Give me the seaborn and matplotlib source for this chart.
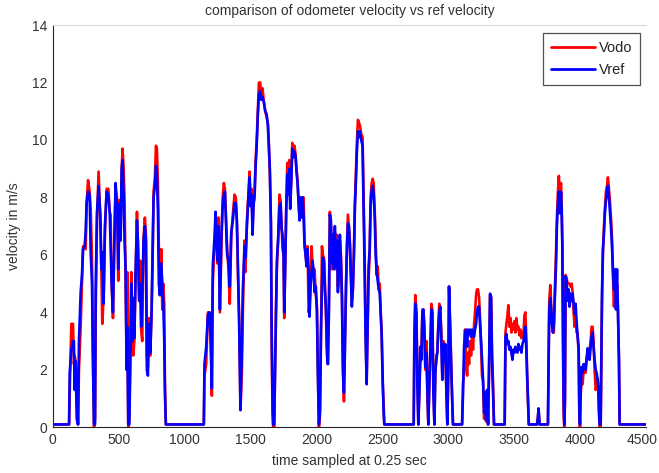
import matplotlib
matplotlib.use("Agg")
import matplotlib.pyplot as plt
import matplotlib.transforms as mtransforms
import pandas as pd
import seaborn as sns

# sample index (time sampled at 0.25 s)
time = [0, 124, 129, 141, 154, 161, 166, 174, 182, 192, 199, 212, 222, 230, 242, 250, 257, 268, 280, 288,
        298, 305, 313, 321, 326, 336, 348, 361, 369, 376, 386, 396, 409, 422, 432, 439, 447, 457, 467, 477,
        490, 497, 507, 515, 523, 530, 538, 545, 553, 560, 565, 573, 581, 588, 596, 603, 611, 619, 629, 639,
        646, 656, 664, 671, 679, 689, 699, 707, 714, 722, 730, 740, 750, 757, 765, 775, 783, 790, 798, 805,
        813, 823, 831, 838, 846, 851, 858,
        1146, 1151, 1164, 1177, 1189, 1197, 1207, 1214, 1227, 1235, 1242, 1250, 1257, 1268, 1278, 1288, 1298,
        1306, 1313, 1323, 1333, 1343, 1354, 1366, 1379, 1389, 1397, 1404, 1414, 1424, 1435, 1442, 1455, 1462,
        1473, 1483, 1493, 1500, 1508, 1516, 1523, 1531, 1538, 1548, 1556, 1564, 1574, 1581, 1591, 1602, 1612,
        1622, 1632, 1639, 1647, 1655, 1660, 1667, 1672, 1680, 1685, 1693, 1700, 1710, 1720, 1728, 1736, 1743,
        1751, 1756, 1763, 1771, 1779, 1786, 1794, 1801, 1809, 1817, 1827, 1834, 1842, 1849, 1857, 1865, 1872,
        1880, 1887, 1895, 1903, 1910, 1918, 1925, 1933, 1941, 1948, 1956, 1963, 1971, 1979, 1986, 1996, 2004,
        2011, 2019, 2027, 2034, 2042, 2049, 2057, 2065, 2072, 2080, 2087, 2095, 2102, 2110, 2118, 2125, 2133,
        2140, 2148, 2156, 2163, 2171, 2178, 2186, 2194, 2201, 2209, 2216, 2224, 2232, 2239, 2247, 2254, 2262,
        2269, 2277, 2285, 2292, 2300, 2307, 2315, 2323, 2330, 2340, 2350, 2358, 2366, 2373, 2381, 2389, 2396,
        2404, 2411, 2419, 2427, 2434, 2442, 2449, 2457, 2465, 2472, 2480, 2487, 2495, 2503, 2510, 2515,
        2738, 2743, 2750, 2758, 2766, 2773, 2781, 2788, 2796, 2804, 2811, 2819, 2826, 2834, 2842, 2849, 2857,
        2864, 2872, 2879, 2887, 2895, 2902, 2910, 2917, 2925, 2932, 2940, 2948, 2955, 2963, 2971, 2978, 2986,
        2993, 3001, 3006, 3014, 3021, 3029, 3036,
        3105, 3112, 3120, 3127, 3135, 3143, 3150, 3158, 3165, 3173, 3181, 3188, 3196, 3203, 3211, 3218, 3226,
        3234, 3241, 3249, 3256, 3264, 3272, 3279, 3287, 3294, 3302, 3310, 3317, 3325, 3332, 3340, 3347,
        3428, 3434, 3441, 3449, 3456, 3464, 3472, 3479, 3487, 3494, 3502, 3509, 3517, 3525, 3532, 3540, 3547,
        3555, 3563, 3570, 3578, 3585, 3593, 3598, 3606, 3611,
        3673, 3679, 3685, 3693,
        3756, 3761, 3766, 3774, 3781, 3786, 3794, 3801, 3809, 3817, 3824, 3832, 3839, 3847, 3855, 3860, 3865,
        3870, 3875, 3880, 3885, 3890, 3898, 3905, 3913, 3920, 3928, 3936, 3943, 3951, 3958, 3966, 3973, 3981,
        3989, 3994, 3999, 4004, 4011, 4019, 4027, 4034, 4042, 4049, 4057, 4065, 4072, 4080, 4087, 4095, 4102,
        4110, 4118, 4125, 4133, 4138, 4143, 4148, 4156, 4161, 4166, 4173, 4181, 4188, 4196, 4204, 4211, 4219,
        4226, 4234, 4242, 4249, 4257, 4264, 4272, 4280, 4287, 4295, 4300, 4500]

# reference velocity (m/s)
vref = [0.1, 0.1, 1.9, 2.7, 3.0, 3.0, 1.3, 2.3, 0.3, 0.1, 3.0, 4.7, 5.3, 6.2, 6.3, 6.8, 7.8, 8.2, 8.1, 6.1,
        5.0, 2.3, 0.1, 0.1, 4.9, 7.5, 8.4, 7.4, 5.5, 6.1, 4.3, 7.0, 8.2, 8.1, 7.5, 6.3, 5.0, 4.0, 6.5, 8.5,
        7.5, 5.5, 7.8, 6.5, 9.0, 9.3, 8.0, 6.5, 5.5, 2.0, 3.5, 0.1, 0.1, 2.0, 5.0, 3.0, 4.5, 3.1, 5.5, 7.2,
        6.5, 4.4, 5.0, 3.5, 4.5, 6.5, 7.0, 6.5, 2.0, 1.8, 3.6, 2.6, 4.0, 6.0, 8.0, 8.4, 9.1, 8.8, 7.5, 5.0,
        4.6, 5.7, 5.0, 4.4, 3.0, 1.2, 0.1,
        0.1, 2.2, 2.8, 3.9, 4.0, 3.2, 1.35, 5.6, 6.6, 7.5, 6.5, 5.8, 7.0, 4.1, 6.5, 7.6, 8.1,
        8.2, 7.3, 6.0, 5.8, 4.9, 6.8, 7.2, 7.8, 7.8, 7.2, 5.8, 3.6, 0.6, 2.9, 4.8, 6.3, 5.9,
        7.0, 7.9, 8.7, 7.7, 8.1, 6.7, 7.7, 8.1, 9.0, 9.9, 10.9, 11.6, 11.7, 11.4, 11.5, 11.3, 11.0,
        10.9, 10.5, 9.8, 9.0, 7.0, 3.7, 1.0, 0.1, 0.1, 1.6, 3.85, 5.8, 6.6, 7.7, 7.8, 6.9, 6.7,
        6.0, 4.0, 5.5, 7.6, 8.8, 8.1, 9.0, 7.6, 8.5, 9.7, 9.4, 9.6, 9.4, 8.9, 8.5, 7.8, 7.2,
        8.0, 7.3, 8.0, 7.3, 6.3, 6.0, 5.6, 6.2, 5.4, 3.85, 4.9, 5.4, 5.8, 5.4, 4.7, 4.9, 4.0,
        1.9, 0.1, 0.6, 3.2, 4.9, 5.9, 5.8, 4.7, 4.2, 2.8, 2.2, 4.0, 7.4, 7.2, 5.7, 6.7, 5.5,
        7.0, 5.6, 6.5, 4.7, 5.4, 6.7, 5.8, 4.4, 1.9, 1.2, 2.6, 4.9, 6.3, 7.1, 7.0, 6.3, 5.1,
        4.2, 4.9, 6.0, 7.7, 8.6, 9.6, 10.3, 10.1, 10.3, 10.0, 9.8, 7.7, 5.4, 3.15, 1.5, 3.7, 5.6,
        6.2, 7.7, 8.25, 8.4, 8.1, 7.4, 6.05, 5.4, 5.1, 4.8, 4.7, 4.0, 3.2, 1.65, 0.5, 0.1,
        0.1, 3.0, 4.3, 4.0, 1.4, 0.1, 1.2, 2.8, 2.35, 4.0, 4.1, 3.3, 2.1, 2.6, 1.2, 0.1, 1.65,
        2.6, 4.1, 4.0, 1.2, 0.1, 1.9, 2.35, 2.6, 3.5, 4.0, 4.2, 2.8, 1.65, 2.9, 2.35, 2.9, 1.2,
        0.1, 2.0, 4.9, 3.5, 2.35, 1.2, 0.1,
        0.1, 1.2, 2.8, 3.25, 3.4, 2.8, 3.4, 3.25, 3.4, 3.15, 3.4, 3.25, 3.15, 3.4, 3.6, 4.0, 4.2,
        4.2, 3.6, 3.0, 2.35, 1.65, 0.5, 1.2, 0.25, 1.3, 0.1, 2.35, 4.65, 4.55, 2.35, 1.2, 0.1,
        0.1, 3.15, 3.25, 2.9, 3.0, 2.7, 2.8, 2.6, 2.35, 2.7, 2.6, 2.8, 2.7, 2.6, 2.9, 2.7, 2.8,
        2.6, 2.9, 3.0, 3.25, 3.5, 2.6, 1.9, 0.7, 0.1,
        0.1, 0.3, 0.66, 0.1,
        0.1, 2.35, 4.1, 4.5, 4.1, 3.6, 3.3, 3.6, 4.65, 5.6, 7.0, 7.8, 8.2, 7.45, 8.2, 7.55, 6.4,
        3.5, 0.95, 0.1, 0.95, 5.25, 5.1, 4.4, 4.8, 4.2, 4.65, 4.4, 4.65, 4.3, 3.95, 4.3, 3.7, 3.15,
        2.8, 0.65, 0.1, 1.2, 2.1, 1.9, 2.2, 2.1, 2.0, 2.35, 2.75, 2.6, 2.35, 2.8, 3.15, 3.3, 2.8,
        2.35, 2.0, 1.9, 1.65, 1.4, 0.65, 0.1, 0.1, 2.35, 4.65, 6.2, 6.75, 7.45, 7.9, 8.15, 8.4, 8.0,
        7.55, 7.0, 6.3, 5.5, 4.8, 5.5, 4.1, 5.5, 4.0, 2.35, 0.1, 0.1]

# odometer velocity (m/s)
vodo = [0.1, 0.1, 1.2, 3.6, 3.6, 2.2, 2.5, 2.3, 1.6, 0.1, 2.0, 3.5, 5.0, 6.3, 6.3, 6.2, 7.8, 8.6, 8.2, 7.6,
        5.8, 2.7, 0.0, 0.3, 4.0, 7.3, 8.9, 7.2, 5.5, 3.6, 4.5, 6.8, 8.3, 8.3, 7.5, 7.4, 5.0, 3.8, 6.2, 8.3,
        7.9, 5.1, 7.9, 6.8, 9.0, 9.7, 9.0, 7.9, 5.1, 2.5, 5.4, 0.0, 0.3, 2.8, 5.4, 3.3, 2.5, 3.0, 5.2, 7.5,
        6.4, 4.4, 5.8, 3.4, 3.0, 6.6, 7.3, 6.7, 2.5, 2.1, 3.8, 2.5, 4.1, 5.6, 8.2, 8.7, 9.8, 9.7, 8.5, 6.2,
        4.6, 6.2, 4.1, 5.0, 4.3, 1.6, 0.1,
        0.1, 1.8, 2.2, 4.0, 4.0, 3.6, 1.1, 5.0, 6.3, 7.0, 6.8, 5.7, 7.3, 4.0, 6.0, 7.9, 8.5,
        8.3, 7.5, 6.2, 5.5, 4.3, 6.6, 7.4, 8.1, 8.0, 7.0, 5.5, 3.8, 0.6, 2.0, 4.0, 6.5, 5.4,
        7.2, 8.0, 8.9, 8.0, 8.3, 7.0, 7.8, 8.0, 9.2, 10.1, 11.1, 12.0, 12.0, 11.5, 11.8, 11.3, 11.0,
        10.8, 10.6, 9.9, 8.8, 7.2, 3.3, 0.5, 0.0, 0.0, 1.5, 4.0, 5.5, 6.5, 8.1, 7.9, 7.0, 6.2,
        6.0, 3.8, 5.6, 7.5, 9.2, 8.3, 9.3, 7.9, 8.6, 9.9, 9.6, 9.8, 9.5, 9.0, 8.6, 7.8, 7.3,
        8.0, 7.6, 8.0, 8.0, 6.5, 6.0, 5.7, 6.3, 4.0, 4.2, 5.2, 6.3, 5.6, 5.5, 5.5, 4.6, 4.2,
        2.0, 0.0, 0.4, 2.8, 6.3, 6.0, 5.9, 5.0, 4.0, 2.5, 2.2, 4.5, 7.5, 7.0, 5.5, 6.6, 6.0,
        6.8, 5.5, 6.7, 4.9, 5.9, 6.5, 6.0, 4.6, 2.3, 0.9, 3.0, 4.6, 6.4, 7.4, 6.9, 6.5, 5.4,
        4.4, 4.8, 6.3, 7.8, 8.9, 9.9, 10.7, 10.6, 10.5, 10.2, 10.1, 8.0, 5.9, 3.4, 1.6, 3.7, 5.2,
        6.0, 8.0, 8.5, 8.65, 8.5, 7.6, 6.5, 5.3, 5.6, 4.9, 5.0, 4.1, 3.3, 1.5, 0.8, 0.1,
        0.1, 3.2, 4.6, 4.1, 2.0, 0.1, 1.4, 2.2, 2.5, 4.1, 4.1, 3.6, 2.0, 3.0, 1.0, 0.1, 1.5,
        2.8, 4.3, 4.1, 1.6, 0.1, 1.9, 2.5, 2.6, 3.6, 4.3, 4.0, 3.3, 1.8, 3.0, 2.3, 2.6, 1.3,
        0.1, 2.2, 4.9, 3.6, 2.5, 1.0, 0.1,
        0.1, 1.5, 2.0, 3.4, 2.3, 1.8, 2.6, 2.2, 3.0, 2.5, 3.2, 2.7, 3.6, 4.0, 4.6, 4.8, 4.8,
        4.5, 3.8, 2.8, 1.8, 1.6, 0.3, 1.0, 0.2, 1.1, 0.1, 2.0, 4.6, 4.5, 2.6, 1.5, 0.1,
        0.1, 3.3, 3.6, 3.9, 4.25, 3.5, 3.8, 3.3, 3.6, 3.4, 3.7, 3.3, 3.8, 3.4, 3.5, 3.2, 3.4,
        3.1, 3.3, 3.2, 3.9, 4.0, 3.0, 1.8, 0.8, 0.1,
        0.1, 0.3, 0.6, 0.1,
        0.1, 2.0, 4.4, 4.95, 4.2, 3.8, 3.3, 3.3, 4.8, 6.0, 7.3, 8.2, 8.75, 8.0, 8.5, 7.8, 6.5,
        3.0, 0.5, 0.0, 0.8, 5.3, 5.2, 5.0, 5.0, 5.0, 4.9, 5.0, 4.7, 4.0, 3.5, 4.0, 3.3, 3.3,
        2.5, 0.6, 0.0, 1.0, 1.8, 1.5, 2.0, 2.2, 1.9, 2.4, 2.6, 2.7, 2.7, 3.0, 3.5, 3.5, 3.0,
        2.0, 1.3, 1.4, 1.7, 1.4, 0.5, 0.0, 0.0, 2.0, 4.3, 6.0, 7.0, 7.6, 8.2, 8.4, 8.7, 8.3,
        7.9, 7.3, 6.6, 5.3, 4.2, 5.4, 4.3, 5.0, 4.2, 2.2, 0.1, 0.1]

series_names = ["Vodo", "Vref"]
series_colors = ["#ff0000", "#0000ff"]
x_ticks = [0, 500, 1000, 1500, 2000, 2500, 3000, 3500, 4000, 4500]
y_ticks = [0, 2, 4, 6, 8, 10, 12, 14]

n = len(time)
df = pd.DataFrame({
    "t": time + time,
    "v": vodo + vref,
    "series": [series_names[0]] * n + [series_names[1]] * n,
})

sns.set_style("white")
plt.rcParams["font.family"] = ["Liberation Sans", "DejaVu Sans"]

fig = plt.figure(figsize=(6.59, 4.73), dpi=100)
ax = fig.add_axes([0.080, 0.0966, 0.9003, 0.8505])

sns.lineplot(data=df, x="t", y="v", hue="series", hue_order=series_names,
             palette=dict(zip(series_names, series_colors)), estimator=None,
             sort=False, linewidth=1.9, ax=ax)

ax.set_xlim(0, 4500)
ax.set_ylim(0, 14)
ax.set_xticks(x_ticks)
ax.set_yticks(y_ticks)
ax.tick_params(direction="in", length=3, width=0.8, colors="#262626",
               labelsize=10, labelcolor="#333333", pad=4)

# keep the last x label inside the figure edge
last = ax.get_xticklabels()[-1]
last.set_transform(last.get_transform() +
                   mtransforms.ScaledTranslation(-4 / 100, 0, fig.dpi_scale_trans))

for side in ["left", "bottom"]:
    ax.spines[side].set_color("#262626")
    ax.spines[side].set_linewidth(0.8)
ax.spines["top"].set_color("#d9d9d9")
ax.spines["top"].set_linewidth(0.8)
ax.spines["right"].set_visible(False)

ax.set_title("comparison of odometer velocity vs ref velocity", fontsize=10, color="#333333", pad=7)
ax.set_xlabel("time sampled at 0.25 sec", fontsize=10, color="#333333", labelpad=5)
ax.set_ylabel("velocity in m/s", fontsize=10, color="#333333", labelpad=8)

leg = ax.legend(loc="upper right", bbox_to_anchor=(0.99, 0.981), borderaxespad=0,
                fancybox=False, frameon=True, fontsize=10.5, handlelength=3.0,
                handletextpad=0.25, labelspacing=0.6, borderpad=0.55)
leg.get_frame().set_edgecolor("#262626")
leg.get_frame().set_linewidth(0.9)
for line in leg.get_lines():
    line.set_linewidth(2.0)

fig.savefig("out.png", dpi=100)
